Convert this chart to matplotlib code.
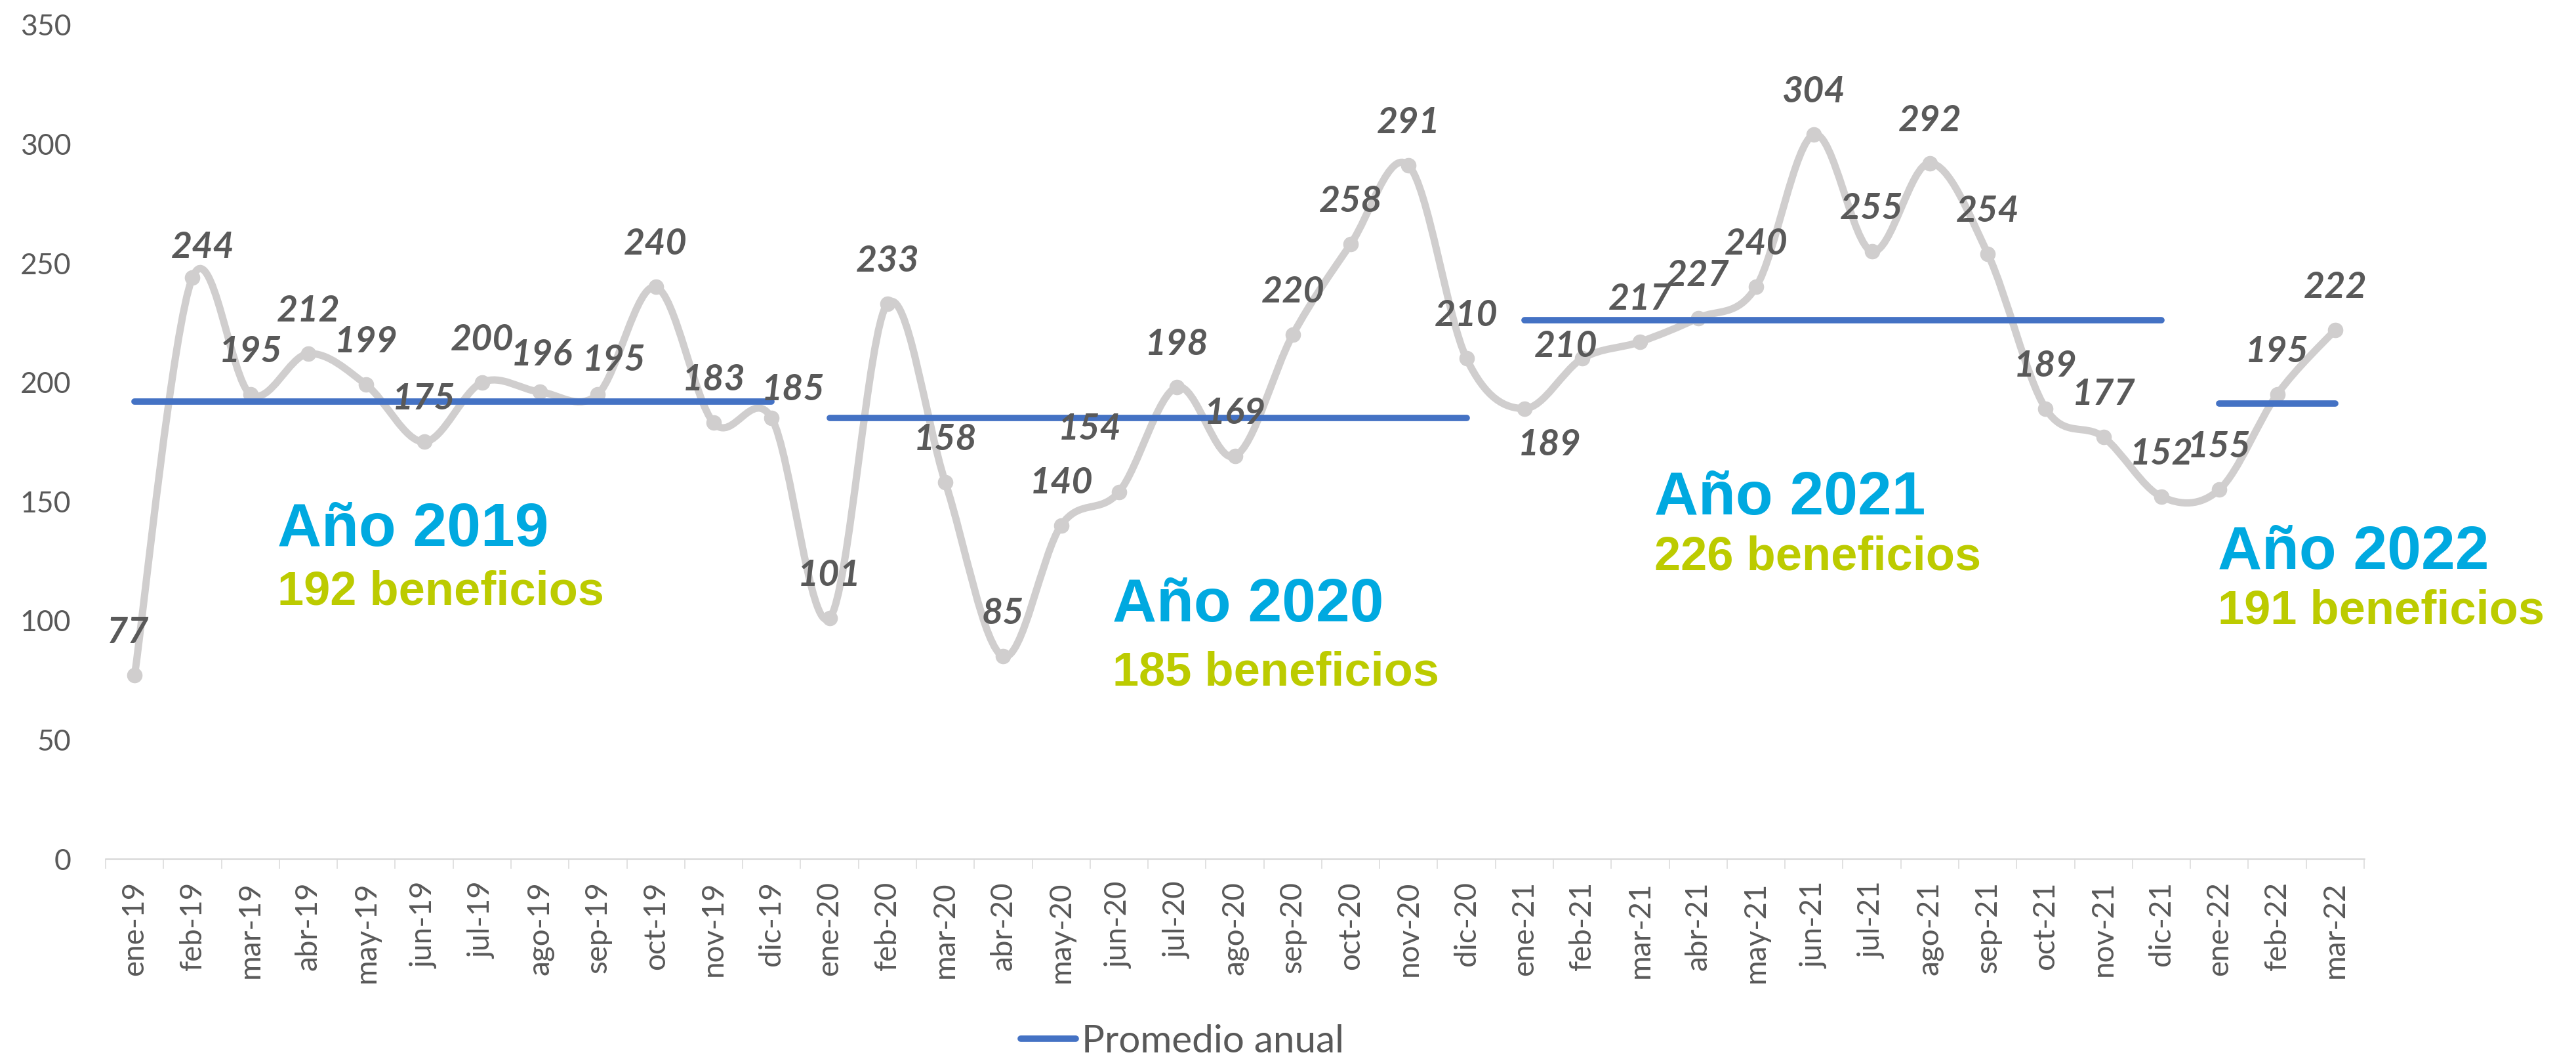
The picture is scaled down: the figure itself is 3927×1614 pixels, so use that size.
import numpy as np
import matplotlib
matplotlib.use('Agg')
import matplotlib.pyplot as plt
from matplotlib.path import Path
from matplotlib.patches import PathPatch
from matplotlib.lines import Line2D

# --- datos ---
meses = ['ene', 'feb', 'mar', 'abr', 'may', 'jun', 'jul', 'ago', 'sep', 'oct', 'nov', 'dic']
etiquetas = [f'{m}-{a}' for a in ('19', '20', '21') for m in meses] + ['ene-22', 'feb-22', 'mar-22']

beneficios = [77, 244, 195, 212, 199, 175, 200, 196, 195, 240, 183, 185,
              101, 233, 158, 85, 140, 154, 198, 169, 220, 258, 291, 210,
              189, 210, 217, 227, 240, 304, 255, 292, 254, 189, 177, 152,
              155, 195, 222]

anios = ['19', '20', '21', '22']
promedio_anual = [192, 185, 226, 191]

gris = '#D0CECE'
azul_linea = '#4472C4'
azul_texto = '#00A9E0'
verde_texto = '#BCCB00'
texto_gris = '#595959'

plt.rcParams['font.family'] = ['Lato', 'DejaVu Sans']

fig = plt.figure(figsize=(39.27, 16.14), dpi=100)
ax = fig.add_axes([0.041, 0.18897, 0.87675, 0.7875])

n = len(beneficios)
x = np.arange(n)
pts = np.column_stack([x, np.array(beneficios, dtype=float)])

# linea suavizada tipo Excel (bezier catmull-rom)
verts = [pts[0]]
codes = [Path.MOVETO]
for i in range(n - 1):
    p0 = pts[max(i - 1, 0)]
    p1 = pts[i]
    p2 = pts[i + 1]
    p3 = pts[min(i + 2, n - 1)]
    verts += [p1 + (p2 - p0) / 6, p2 - (p3 - p1) / 6, p2]
    codes += [Path.CURVE4] * 3
ax.add_patch(PathPatch(Path(verts, codes), facecolor='none', edgecolor=gris,
                       lw=8, capstyle='round', joinstyle='round', zorder=2))
ax.plot(x, beneficios, 'o', color=gris, markersize=16, zorder=3)

# promedios por año
for k, a in enumerate(anios):
    idx = [i for i, e in enumerate(etiquetas) if e.endswith(a)]
    ax.plot([idx[0], idx[-1]], [promedio_anual[k]] * 2, color=azul_linea, lw=7,
            solid_capstyle='round', zorder=4, label='Promedio anual' if k == 0 else None)

# etiquetas de datos
ajustes = {0: (-10, 65), 1: (16, 46), 7: (3, 56), 8: (25, 52), 11: (33, 43),
           17: (-45, 96), 24: (38, -55), 25: (-25, 18)}
for i, v in enumerate(beneficios):
    dx, dy = ajustes.get(i, (0, 65))
    ax.annotate(str(v), (i, v), xytext=(dx, dy), textcoords='offset pixels',
                ha='center', va='center', fontsize=40, fontweight='bold',
                fontstyle='italic', color=texto_gris, zorder=5)

# textos de cada año
pos_textos = [(2.47, 131.4, 106.6), (16.89, 99.7, 72.7), (26.24, 144.6, 121.2), (35.97, 121.8, 98.6)]
fam = ['Liberation Sans', 'DejaVu Sans']
for k, a in enumerate(anios):
    px, py1, py2 = pos_textos[k]
    ax.text(px, py1, f'Año 20{a}', color=azul_texto, fontsize=67, fontweight='bold',
            family=fam, ha='left', va='baseline', zorder=6)
    ax.text(px, py2, f'{promedio_anual[k]} beneficios', color=verde_texto, fontsize=52,
            fontweight='bold', family=fam, ha='left', va='baseline', zorder=6)

ax.set_xlim(-0.5, n - 0.5)
ax.set_ylim(0, 350)
ax.set_yticks(range(0, 351, 50))
ax.set_xticks(x)
ax.set_xticklabels(etiquetas, rotation=90)
ax.set_xticks(np.arange(-0.5, n, 1), minor=True)
ax.tick_params(axis='x', which='major', length=0, pad=24.5, labelsize=33, labelcolor=texto_gris)
ax.tick_params(axis='x', which='minor', length=11, width=1.1, color='#D9D9D9', direction='out')
ax.tick_params(axis='y', length=0, pad=38, labelsize=32, labelcolor=texto_gris)
for s in ['top', 'right', 'left']:
    ax.spines[s].set_visible(False)
ax.spines['bottom'].set_color('#D9D9D9')
ax.spines['bottom'].set_linewidth(1.8)

leg = fig.legend(handles=[Line2D([], [], color=azul_linea, lw=7, solid_capstyle='round')],
                 labels=['Promedio anual'], loc='center', bbox_to_anchor=(0.459, 0.0167),
                 frameon=False, fontsize=42, handlelength=1.45, handletextpad=0.15)
for t in leg.get_texts():
    t.set_color(texto_gris)

fig.savefig('out.png', dpi=100)
